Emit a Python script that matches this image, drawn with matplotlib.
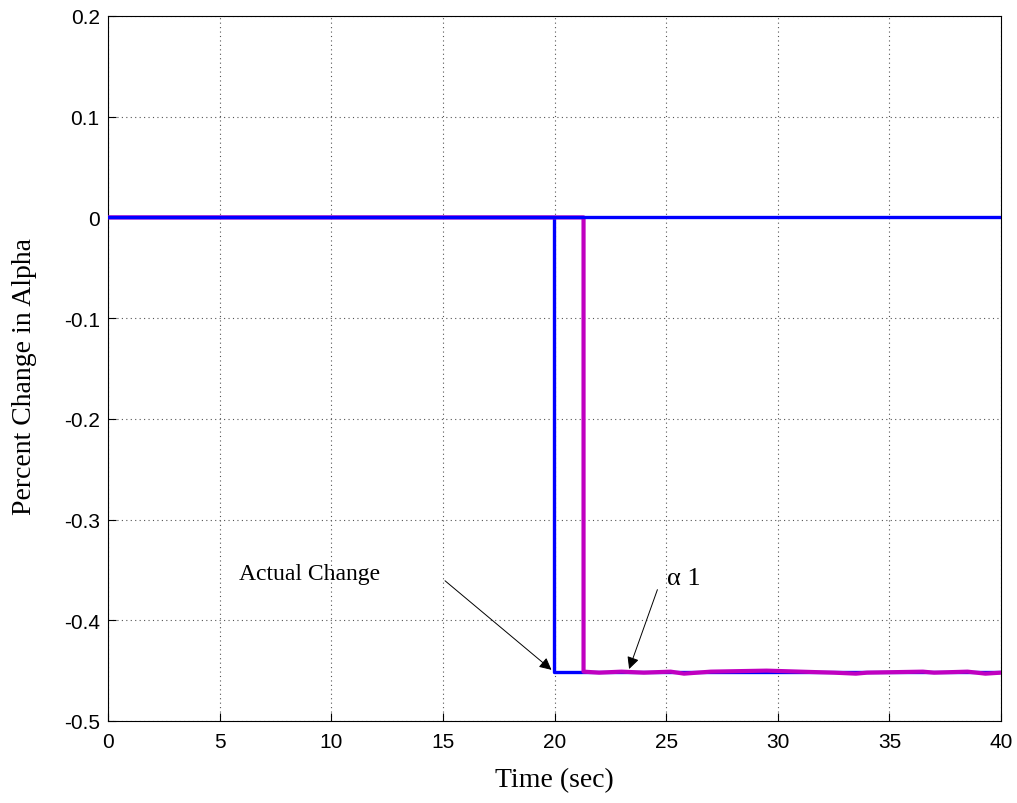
import matplotlib
matplotlib.use("Agg")
import matplotlib.pyplot as plt

# actual change (blue) and alpha 1 estimate (magenta)
actual_t = [0, 19.96, 19.96, 40]
actual_v = [0, 0, -0.451, -0.451]

alpha_t = [0, 21.3, 21.3, 22.0, 23.0, 24.0, 25.2, 25.8, 27.0, 29.5, 32.5, 33.5, 34.0, 36.5, 37.0, 38.5, 39.3, 40]
alpha_v = [0, 0, -0.451, -0.452, -0.451, -0.452, -0.451, -0.453, -0.451, -0.450, -0.452, -0.453, -0.452, -0.451, -0.452, -0.451, -0.453, -0.452]

zero_t = [0, 40]
zero_v = [0, 0]

x_ticks = [0, 5, 10, 15, 20, 25, 30, 35, 40]
y_ticks = [-0.5, -0.4, -0.3, -0.2, -0.1, 0, 0.1, 0.2]
y_labels = ["-0.5", "-0.4", "-0.3", "-0.2", "-0.1", "0", "0.1", "0.2"]

fig = plt.figure(figsize=(10.17, 8.04), dpi=100)
ax = fig.add_axes([0.1062, 0.102, 0.8781, 0.8769])

ax.plot(actual_t, actual_v, color="#0000ff", lw=2.4, zorder=2)
ax.plot(alpha_t, alpha_v, color="#c000c0", lw=3.0, zorder=3)
ax.plot(zero_t, zero_v, color="#0000ff", lw=2.4, zorder=4)

ax.set_xlim(0, 40)
ax.set_ylim(-0.5, 0.2)
ax.set_xticks(x_ticks)
ax.set_xticklabels([str(t) for t in x_ticks], fontsize=15, family="Liberation Sans")
ax.set_yticks(y_ticks)
ax.set_yticklabels(y_labels, fontsize=15, family="Liberation Sans")
ax.tick_params(direction="in", length=6, width=0.8)
ax.tick_params(axis="x", pad=8)
ax.tick_params(axis="y", pad=6)
ax.grid(True, color="#555555", linestyle=(0, (1, 3)), linewidth=0.8)
for s in ax.spines.values():
    s.set_linewidth(0.8)

ax.set_xlabel("Time (sec)", fontsize=20, family="Liberation Serif")
ax.xaxis.set_label_coords(0.5, -0.066)
ax.set_ylabel("Percent Change in Alpha", fontsize=20, family="Liberation Serif")
ax.yaxis.set_label_coords(-0.079, 0.49)

ax.annotate("", xy=(19.96, -0.451), xytext=(15.0, -0.359),
            arrowprops=dict(arrowstyle="-|>", color="black", lw=0.7, mutation_scale=18))
ax.text(5.85, -0.354, "Actual Change", fontsize=17, family="Liberation Serif", va="center")

ax.annotate("", xy=(23.3, -0.451), xytext=(24.65, -0.367),
            arrowprops=dict(arrowstyle="-|>", color="black", lw=0.7, mutation_scale=18))
ax.text(25.05, -0.358, "\u03b1 1", fontsize=19, family="Liberation Serif", va="center")

fig.savefig("out.png", dpi=100)
